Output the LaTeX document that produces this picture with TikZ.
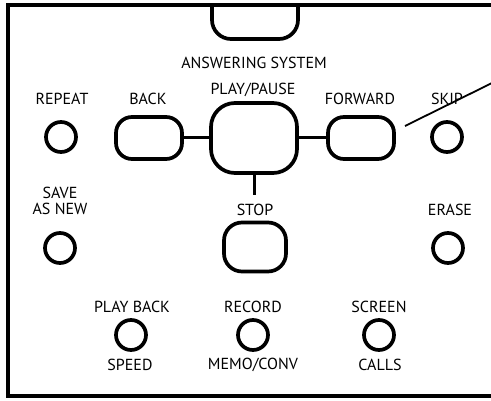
\documentclass[tikz,border=0pt]{standalone}
\usepackage{fontspec}
\setmainfont{PT Sans}
\begin{document}
\begin{tikzpicture}[x=1pt,y=-1pt,
  lbl/.style={font=\fontsize{16}{16.5}\selectfont, inner sep=0pt, align=center},
  rbtn/.style={draw, line width=3.7pt, circle, minimum size=30pt, inner sep=0pt},
  kbtn/.style={draw, line width=3.7pt, rectangle, rounded corners=16pt, inner sep=0pt},
  wire/.style={line width=3pt},
  frame/.style={line width=3.5pt}]
\useasboundingbox (0,0) rectangle (491,401);
% frame (open on the right)
\draw[frame] (491,5) -- (8,5) -- (8,396) -- (491,396);
% answering system key (top clipped by frame)
\draw[line width=3.7pt, rounded corners=19pt] (212,5) -- (212,39) -- (298,39) -- (298,5);
\node[lbl] (tans) at (254,63) {ANSWERING SYSTEM};
% top row labels
\node[lbl] (trep) at (62,99) {REPEAT};
\node[lbl] (tback) at (148,99) {BACK};
\node[lbl] (tplay) at (253,90) {PLAY/PAUSE};
\node[lbl] (tfwd) at (360,99) {FORWARD};
\node[lbl] (tskip) at (447,99) {SKIP};
% top row keys
\node[rbtn] (rep) at (61,137) {};
\node[kbtn, minimum width=66pt, minimum height=42pt, rounded corners=16pt] (back) at (149,138) {};
\node[kbtn, minimum width=86pt, minimum height=70pt, rounded corners=24pt] (play) at (254,138) {};
\node[kbtn, minimum width=66pt, minimum height=42pt, rounded corners=16pt] (fwd) at (361,138) {};
\node[rbtn] (skip) at (447,137) {};
\draw[wire] (back.east) -- (play.west);
\draw[wire] (play.east) -- (fwd.west);
\coordinate (stopend) at (play.south |- 0,195);
\draw[wire] (play.south) -- (stopend);
% diagonal pointer line
\coordinate (p1) at (405,126);
\coordinate (p2) at (492,83);
\draw[line width=1.8pt] (p1) -- (p2);
% middle row
\node[lbl] (tsave) at (60,201) {SAVE\\AS NEW};
\node[lbl] (tstop) at (255,210) {STOP};
\node[lbl] (terase) at (450,210) {ERASE};
\node[rbtn] (save) at (60,248) {};
\node[kbtn, minimum width=62pt, minimum height=49pt, rounded corners=18pt] (stop) at (255,247) {};
\node[rbtn] (erase) at (448,248) {};
% bottom row
\node[lbl] (tpb) at (132,307) {PLAY BACK};
\node[lbl] (trec) at (253,307) {RECORD};
\node[lbl] (tscr) at (379,307) {SCREEN};
\node[rbtn] (pb) at (131,335) {};
\node[rbtn] (rec) at (253,335) {};
\node[rbtn] (scr) at (379,335) {};
\node[lbl] (tspd) at (130,365) {SPEED};
\node[lbl] (tmemo) at (253,365) {MEMO/CONV};
\node[lbl] (tcalls) at (380,365) {CALLS};
\end{tikzpicture}
\end{document}
